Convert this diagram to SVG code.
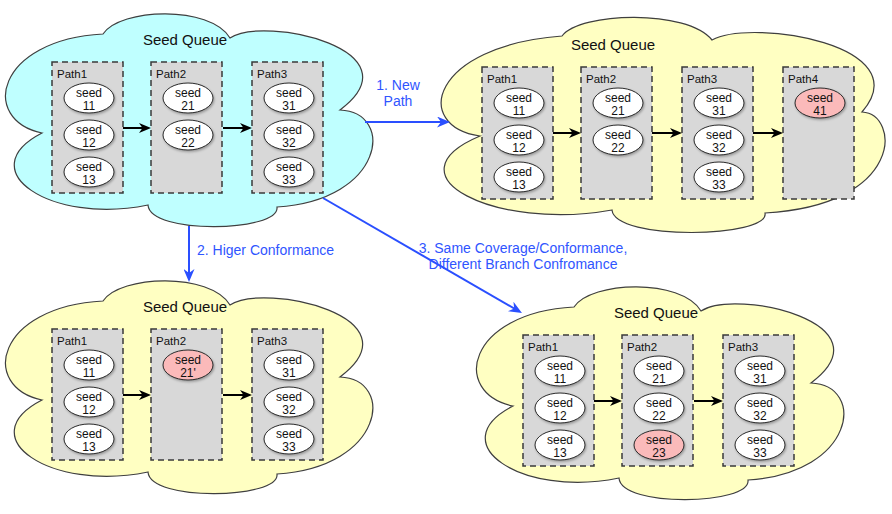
<svg xmlns="http://www.w3.org/2000/svg" width="892" height="514" viewBox="0 0 892 514">
<style>
.cc{fill:#bfffff;stroke:#3f3f3f;stroke-width:1.2}
.cy{fill:#ffffc2;stroke:#3f3f3f;stroke-width:1.2}
.box{fill:#d8d8d8;stroke:#3a3a3a;stroke-width:1.5;stroke-dasharray:6 4}
.sd{fill:#fff;stroke:#2a2a2a;stroke-width:1;filter:url(#sh)}
.nw{fill:#fbbaba}
text{font-family:"Liberation Sans",Arial,sans-serif;fill:#111}
.ti{font-size:15px;text-anchor:middle}
.pl{font-size:11.5px}
.st{font-size:12px;text-anchor:middle}
.bl{font-size:14px;fill:#2f55ff}
.mid{text-anchor:middle}
.ck{stroke:#000;stroke-width:2;fill:none;marker-end:url(#ak)}
.cb{stroke:#2a4fff;stroke-width:2;fill:none;marker-end:url(#ab)}
</style>
<defs>
<filter id="sh" x="-20%" y="-20%" width="150%" height="160%"><feDropShadow dx="1" dy="1.5" stdDeviation="1" flood-color="#000" flood-opacity="0.3"/></filter>
<marker id="ak" viewBox="0 0 12 10" refX="8" refY="5" markerWidth="12" markerHeight="10" markerUnits="userSpaceOnUse" orient="auto"><path d="M0,0 L12,5 L0,10 L3.5,5 Z" fill="#000"/></marker>
<marker id="ab" viewBox="0 0 13 11" refX="9" refY="5.5" markerWidth="13" markerHeight="11" markerUnits="userSpaceOnUse" orient="auto"><path d="M0,0 L13,5.5 L0,11 L4,5.5 Z" fill="#2a4fff"/></marker>
<path id="cl" d="M103,34 C120,8 210,5 230,38 C265,15 420,50 340,110 C395,112 385,200 277,207 C280,232 150,235 148,205 C50,225 -30,170 42,133 C-20,120 -5,40 103,34 Z"/>
</defs>

<g id="queue-initial">
<use href="#cl" class="cc"/>
<text class="ti" x="185" y="45">Seed Queue</text>
<g id="q0-path1"><rect class="box" x="52" y="62" width="71" height="131"/><text class="pl" x="57" y="78">Path1</text>
<ellipse class="sd" cx="89" cy="98" rx="25" ry="15"/><text class="st" x="89" y="96.5">seed</text><text class="st" x="89" y="109.5">11</text>
<ellipse class="sd" cx="89" cy="135" rx="25" ry="15"/><text class="st" x="89" y="133.5">seed</text><text class="st" x="89" y="146.5">12</text>
<ellipse class="sd" cx="89" cy="172" rx="25" ry="15"/><text class="st" x="89" y="170.5">seed</text><text class="st" x="89" y="183.5">13</text></g>
<g id="q0-path2"><rect class="box" x="151" y="62" width="71" height="131"/><text class="pl" x="156" y="78">Path2</text>
<ellipse class="sd" cx="188" cy="98" rx="25" ry="15"/><text class="st" x="188" y="96.5">seed</text><text class="st" x="188" y="109.5">21</text>
<ellipse class="sd" cx="188" cy="135" rx="25" ry="15"/><text class="st" x="188" y="133.5">seed</text><text class="st" x="188" y="146.5">22</text></g>
<g id="q0-path3"><rect class="box" x="252" y="62" width="71" height="131"/><text class="pl" x="257" y="78">Path3</text>
<ellipse class="sd" cx="289" cy="98" rx="25" ry="15"/><text class="st" x="289" y="96.5">seed</text><text class="st" x="289" y="109.5">31</text>
<ellipse class="sd" cx="289" cy="135" rx="25" ry="15"/><text class="st" x="289" y="133.5">seed</text><text class="st" x="289" y="146.5">32</text>
<ellipse class="sd" cx="289" cy="172" rx="25" ry="15"/><text class="st" x="289" y="170.5">seed</text><text class="st" x="289" y="183.5">33</text></g>
</g>

<g id="queue-new-path">
<path class="cy" d="M562,36 C580,12 687,9 712,40 C752,18 920,45 862,112 C900,114 905,205 765,213 C770,238 615,241 612,210 C496,231 385,176 480,136 C412,126 430,46 562,36 Z"/>
<text class="ti" x="613" y="50">Seed Queue</text>
<g id="q1-path1"><rect class="box" x="482" y="67" width="71" height="132"/><text class="pl" x="487" y="83">Path1</text>
<ellipse class="sd" cx="519" cy="103" rx="25" ry="15"/><text class="st" x="519" y="101.5">seed</text><text class="st" x="519" y="114.5">11</text>
<ellipse class="sd" cx="519" cy="140" rx="25" ry="15"/><text class="st" x="519" y="138.5">seed</text><text class="st" x="519" y="151.5">12</text>
<ellipse class="sd" cx="519" cy="177" rx="25" ry="15"/><text class="st" x="519" y="175.5">seed</text><text class="st" x="519" y="188.5">13</text></g>
<g id="q1-path2"><rect class="box" x="581" y="67" width="71" height="132"/><text class="pl" x="586" y="83">Path2</text>
<ellipse class="sd" cx="618" cy="103" rx="25" ry="15"/><text class="st" x="618" y="101.5">seed</text><text class="st" x="618" y="114.5">21</text>
<ellipse class="sd" cx="618" cy="140" rx="25" ry="15"/><text class="st" x="618" y="138.5">seed</text><text class="st" x="618" y="151.5">22</text></g>
<g id="q1-path3"><rect class="box" x="682" y="67" width="71" height="132"/><text class="pl" x="687" y="83">Path3</text>
<ellipse class="sd" cx="719" cy="103" rx="25" ry="15"/><text class="st" x="719" y="101.5">seed</text><text class="st" x="719" y="114.5">31</text>
<ellipse class="sd" cx="719" cy="140" rx="25" ry="15"/><text class="st" x="719" y="138.5">seed</text><text class="st" x="719" y="151.5">32</text>
<ellipse class="sd" cx="719" cy="177" rx="25" ry="15"/><text class="st" x="719" y="175.5">seed</text><text class="st" x="719" y="188.5">33</text></g>
<g id="q1-path4"><rect class="box" x="783" y="67" width="71" height="132"/><text class="pl" x="788" y="83">Path4</text>
<ellipse class="sd nw" cx="820" cy="103" rx="25" ry="15"/><text class="st" x="820" y="101.5">seed</text><text class="st" x="820" y="114.5">41</text></g>
</g>

<g id="queue-higher-conformance" transform="translate(0,267)">
<use href="#cl" class="cy"/>
<text class="ti" x="185" y="45">Seed Queue</text>
<g id="q2-path1"><rect class="box" x="52" y="62" width="71" height="131"/><text class="pl" x="57" y="78">Path1</text>
<ellipse class="sd" cx="89" cy="98" rx="25" ry="15"/><text class="st" x="89" y="96.5">seed</text><text class="st" x="89" y="109.5">11</text>
<ellipse class="sd" cx="89" cy="135" rx="25" ry="15"/><text class="st" x="89" y="133.5">seed</text><text class="st" x="89" y="146.5">12</text>
<ellipse class="sd" cx="89" cy="172" rx="25" ry="15"/><text class="st" x="89" y="170.5">seed</text><text class="st" x="89" y="183.5">13</text></g>
<g id="q2-path2"><rect class="box" x="151" y="62" width="71" height="131"/><text class="pl" x="156" y="78">Path2</text>
<ellipse class="sd nw" cx="188" cy="98" rx="25" ry="15"/><text class="st" x="188" y="96.5">seed</text><text class="st" x="188" y="109.5">21'</text></g>
<g id="q2-path3"><rect class="box" x="252" y="62" width="71" height="131"/><text class="pl" x="257" y="78">Path3</text>
<ellipse class="sd" cx="289" cy="98" rx="25" ry="15"/><text class="st" x="289" y="96.5">seed</text><text class="st" x="289" y="109.5">31</text>
<ellipse class="sd" cx="289" cy="135" rx="25" ry="15"/><text class="st" x="289" y="133.5">seed</text><text class="st" x="289" y="146.5">32</text>
<ellipse class="sd" cx="289" cy="172" rx="25" ry="15"/><text class="st" x="289" y="170.5">seed</text><text class="st" x="289" y="183.5">33</text></g>
</g>

<g id="queue-branch-conformance" transform="translate(471,273)">
<use href="#cl" class="cy"/>
<text class="ti" x="185" y="45">Seed Queue</text>
<g id="q3-path1"><rect class="box" x="52" y="62" width="71" height="131"/><text class="pl" x="57" y="78">Path1</text>
<ellipse class="sd" cx="89" cy="98" rx="25" ry="15"/><text class="st" x="89" y="96.5">seed</text><text class="st" x="89" y="109.5">11</text>
<ellipse class="sd" cx="89" cy="135" rx="25" ry="15"/><text class="st" x="89" y="133.5">seed</text><text class="st" x="89" y="146.5">12</text>
<ellipse class="sd" cx="89" cy="172" rx="25" ry="15"/><text class="st" x="89" y="170.5">seed</text><text class="st" x="89" y="183.5">13</text></g>
<g id="q3-path2"><rect class="box" x="151" y="62" width="71" height="131"/><text class="pl" x="156" y="78">Path2</text>
<ellipse class="sd" cx="188" cy="98" rx="25" ry="15"/><text class="st" x="188" y="96.5">seed</text><text class="st" x="188" y="109.5">21</text>
<ellipse class="sd" cx="188" cy="135" rx="25" ry="15"/><text class="st" x="188" y="133.5">seed</text><text class="st" x="188" y="146.5">22</text>
<ellipse class="sd nw" cx="188" cy="172" rx="25" ry="15"/><text class="st" x="188" y="170.5">seed</text><text class="st" x="188" y="183.5">23</text></g>
<g id="q3-path3"><rect class="box" x="252" y="62" width="71" height="131"/><text class="pl" x="257" y="78">Path3</text>
<ellipse class="sd" cx="289" cy="98" rx="25" ry="15"/><text class="st" x="289" y="96.5">seed</text><text class="st" x="289" y="109.5">31</text>
<ellipse class="sd" cx="289" cy="135" rx="25" ry="15"/><text class="st" x="289" y="133.5">seed</text><text class="st" x="289" y="146.5">32</text>
<ellipse class="sd" cx="289" cy="172" rx="25" ry="15"/><text class="st" x="289" y="170.5">seed</text><text class="st" x="289" y="183.5">33</text></g>
</g>

<g id="connectors">
<path class="ck" d="M123,128 H147"/>
<path class="ck" d="M223,128 H248"/>
<path class="ck" d="M553,133 H577"/>
<path class="ck" d="M652,133 H678"/>
<path class="ck" d="M753,133 H779"/>
<path class="ck" d="M123,395 H147"/>
<path class="ck" d="M223,395 H248"/>
<path class="ck" d="M594,401 H618"/>
<path class="ck" d="M694,401 H719"/>
<path class="cb" d="M365,122 H446"/>
<path class="cb" d="M189,226 V278"/>
<path class="cb" d="M323,198 L518.5,311"/>
<text class="bl mid" x="398" y="90">1. New</text>
<text class="bl mid" x="398" y="105.5">Path</text>
<text class="bl" x="197" y="255">2. Higer Conformance</text>
<text class="bl mid" x="523" y="253">3. Same Coverage/Conformance,</text>
<text class="bl mid" x="523" y="268.5">Different Branch Confromance</text>
</g>
</svg>
